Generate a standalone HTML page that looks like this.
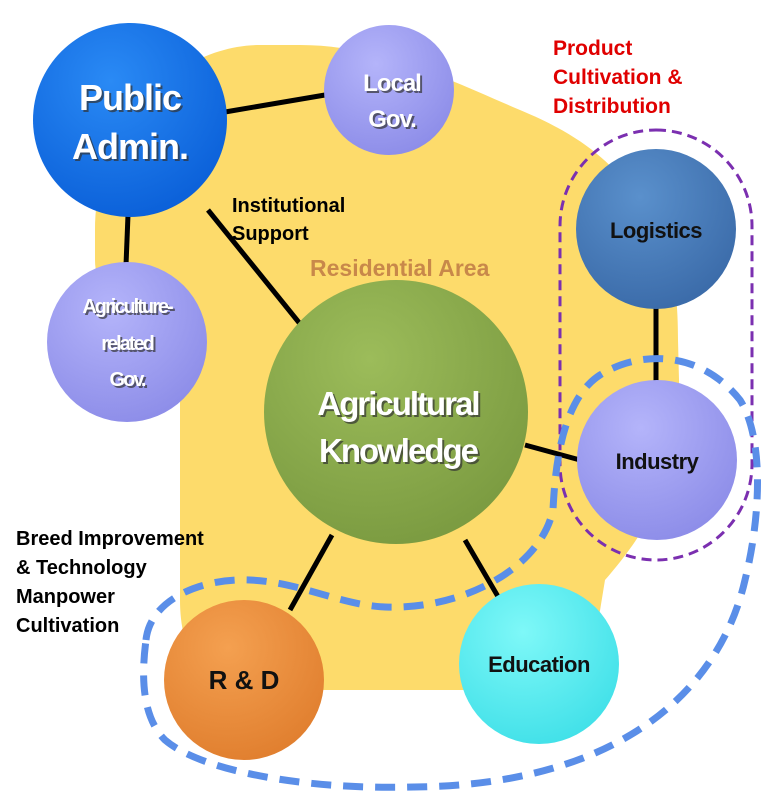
<!DOCTYPE html>
<html><head><meta charset="utf-8"><style>
html,body{margin:0;padding:0;background:#fff;}
svg{display:block;}
text{font-family:"Liberation Sans",sans-serif;font-weight:bold;}
</style></head><body>
<svg width="767" height="795" viewBox="0 0 767 795" xmlns="http://www.w3.org/2000/svg">
<defs>
<radialGradient id="gB" cx="40%" cy="30%" r="75%"><stop offset="0" stop-color="#2a8af5"/><stop offset="1" stop-color="#0a5fd8"/></radialGradient>
<radialGradient id="gL" cx="40%" cy="30%" r="75%"><stop offset="0" stop-color="#b4b4fa"/><stop offset="1" stop-color="#8c8ce8"/></radialGradient>
<radialGradient id="gG" cx="40%" cy="30%" r="75%"><stop offset="0" stop-color="#9cbc5a"/><stop offset="1" stop-color="#7a9a40"/></radialGradient>
<radialGradient id="gS" cx="40%" cy="30%" r="75%"><stop offset="0" stop-color="#5a90cc"/><stop offset="1" stop-color="#3a6aa8"/></radialGradient>
<radialGradient id="gO" cx="40%" cy="30%" r="75%"><stop offset="0" stop-color="#f4a050"/><stop offset="1" stop-color="#e07e2e"/></radialGradient>
<radialGradient id="gC" cx="40%" cy="30%" r="75%"><stop offset="0" stop-color="#7ef8f8"/><stop offset="1" stop-color="#40e0e8"/></radialGradient>
</defs>
<path d="M95,230 C95,120 180,45 260,45 L300,45 C380,45 450,80 520,110 C580,135 610,160 640,200 C670,240 678,280 678,340 L680,420 C680,480 640,540 605,580 C595,640 590,690 560,690 L250,690 C200,690 180,650 180,600 L180,400 C180,330 95,320 95,260 Z" fill="#fddb6b"/>
<g stroke="#000" stroke-width="5">
<line x1="225" y1="112" x2="325" y2="95"/>
<line x1="128" y1="215" x2="126" y2="265"/>
<line x1="208" y1="210" x2="305" y2="330"/>
<line x1="525" y1="445" x2="580" y2="460"/>
<line x1="656" y1="305" x2="656" y2="385"/>
<line x1="332" y1="535" x2="290" y2="610"/>
<line x1="465" y1="540" x2="500" y2="600"/>
</g>
<circle cx="130" cy="120" r="97" fill="url(#gB)"/>
<circle cx="389" cy="90" r="65" fill="url(#gL)"/>
<circle cx="127" cy="342" r="80" fill="url(#gL)"/>
<circle cx="396" cy="412" r="132" fill="url(#gG)"/>
<circle cx="656" cy="229" r="80" fill="url(#gS)"/>
<circle cx="657" cy="460" r="80" fill="url(#gL)"/>
<circle cx="244" cy="680" r="80" fill="url(#gO)"/>
<circle cx="539" cy="664" r="80" fill="url(#gC)"/>
<rect x="560" y="130" width="192" height="430" rx="96" fill="none" stroke="#7b2fb0" stroke-width="3" stroke-dasharray="10,6"/>
<path d="M146,640 C150,600 200,578 250,580 C300,582 340,605 385,607 C460,610 540,570 553,510 C555,470 561,400 600,375 C640,350 700,350 740,400 C765,440 760,520 745,580 C720,690 620,785 414,787 C300,790 200,770 165,740 C140,715 142,670 146,640 Z" fill="none" stroke="#5a8ee8" stroke-width="7" stroke-dasharray="20,12"/>
<g text-anchor="middle" fill="#333" opacity="0.7" transform="translate(2,2)">
<text x="130" y="110" font-size="36" letter-spacing="-1">Public</text>
<text x="130" y="159" font-size="36" letter-spacing="-1">Admin.</text>
<text x="392" y="91" font-size="24" letter-spacing="-1">Local</text>
<text x="392" y="127" font-size="24" letter-spacing="-1">Gov.</text>
<text x="127" y="313" font-size="20" letter-spacing="-2">Agriculture-</text>
<text x="127" y="350" font-size="20" letter-spacing="-2">related</text>
<text x="127" y="386" font-size="20" letter-spacing="-2">Gov.</text>
<text x="398" y="415" font-size="33" letter-spacing="-2">Agricultural</text>
<text x="398" y="462" font-size="33" letter-spacing="-2">Knowledge</text>
</g>
<g fill="#fff" text-anchor="middle">
<text x="130" y="110" font-size="36" letter-spacing="-1">Public</text>
<text x="130" y="159" font-size="36" letter-spacing="-1">Admin.</text>
<text x="392" y="91" font-size="24" letter-spacing="-1">Local</text>
<text x="392" y="127" font-size="24" letter-spacing="-1">Gov.</text>
<text x="127" y="313" font-size="20" letter-spacing="-2">Agriculture-</text>
<text x="127" y="350" font-size="20" letter-spacing="-2">related</text>
<text x="127" y="386" font-size="20" letter-spacing="-2">Gov.</text>
<text x="398" y="415" font-size="33" letter-spacing="-2">Agricultural</text>
<text x="398" y="462" font-size="33" letter-spacing="-2">Knowledge</text>
</g>
<g fill="#111" text-anchor="middle">
<text x="656" y="238" font-size="22" letter-spacing="-0.5">Logistics</text>
<text x="657" y="469" font-size="22" letter-spacing="-0.5">Industry</text>
<text x="244" y="689" font-size="26">R &amp; D</text>
<text x="539" y="672" font-size="22" letter-spacing="-0.5">Education</text>
</g>
<g font-size="20" fill="#000">
<text x="232" y="212">Institutional</text>
<text x="232" y="240">Support</text>
<text x="16" y="545">Breed Improvement</text>
<text x="16" y="574">&amp; Technology</text>
<text x="16" y="603">Manpower</text>
<text x="16" y="632">Cultivation</text>
</g>
<text x="310" y="276" font-size="23" fill="#c8884a">Residential Area</text>
<g font-size="21" fill="#e00000">
<text x="553" y="55">Product</text>
<text x="553" y="84">Cultivation &amp;</text>
<text x="553" y="113">Distribution</text>
</g>
</svg>
</body></html>
